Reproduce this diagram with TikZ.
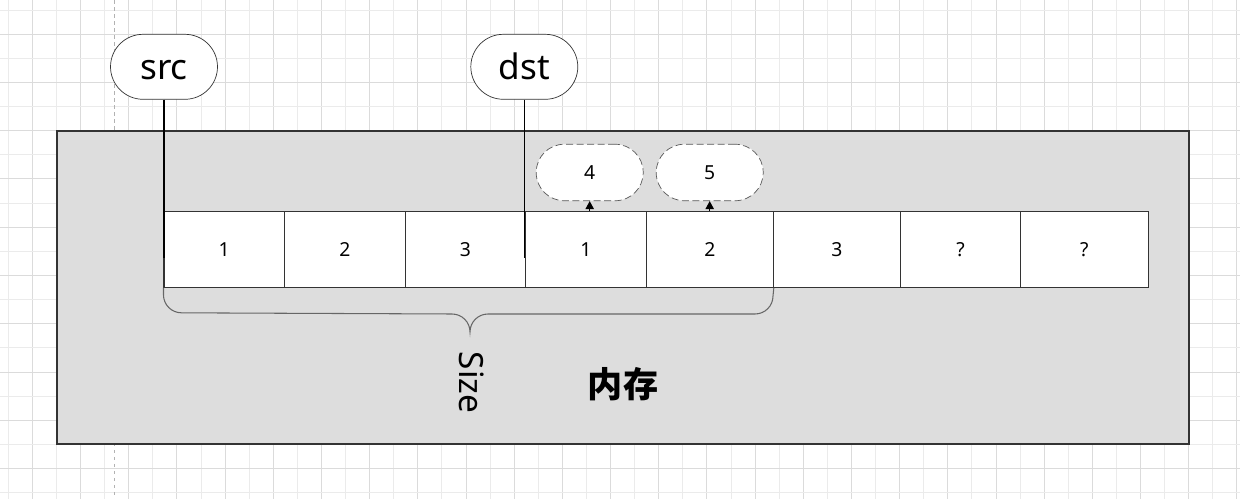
\documentclass[tikz,border=0pt]{standalone}
\usepackage{fontspec}
\setmainfont{Noto Sans}
\newfontfamily\cjk{Noto Sans CJK SC}
\usetikzlibrary{arrows.meta,positioning}
\definecolor{memgray}{HTML}{DDDDDD}
\definecolor{edgegray}{HTML}{333333}
\tikzset{
    >={Triangle[length=4.6pt,width=4.8pt]},
    gridminor/.style={draw=black!8, line width=0.5pt},
    gridmajor/.style={draw=black!14, line width=0.5pt},
    guide/.style={draw=black!30, dash pattern=on 2pt off 2pt, line width=0.5pt},
    pill/.style={draw=edgegray, fill=white, rounded corners=0.65cm,
        minimum width=2.14cm, minimum height=1.3cm, inner sep=0pt,
        text height=15pt, text depth=0.9pt,
        font=\fontsize{20}{24}\selectfont},
    newpill/.style={draw=black!65, fill=white, dash pattern=on 4pt off 2pt,
        rounded corners=0.56cm, minimum width=2.14cm, minimum height=1.13cm,
        inner sep=0pt, font=\fontsize{11}{13}\selectfont},
    cell/.style={draw=edgegray, fill=white, minimum height=1.512cm,
        inner sep=0pt, line width=0.6pt, font=\fontsize{11}{13}\selectfont},
    ptr/.style={draw=black, line width=0.8pt},
    brace/.style={draw=black!60, line width=0.6pt},
}

\begin{document}
\begin{tikzpicture}[x=0.02cm, y=0.02cm]
    \useasboundingbox (0,0) rectangle (1240,-499);

    % background grid
    \foreach \k in {0,2,...,50} \draw[gridminor] ({8.3+24.09*\k},0) -- ++(0,-499);
    \foreach \k in {1,3,...,51} \draw[gridmajor] ({8.3+24.09*\k},0) -- ++(0,-499);
    \foreach \k in {0,2,...,20} \draw[gridminor] (0,{-10-24.13*\k}) -- ++(1240,0);
    \foreach \k in {1,3,...,19} \draw[gridmajor] (0,{-10-24.13*\k}) -- ++(1240,0);
    \draw[guide] (114.7,0) -- (114.7,-499);

    % memory block
    \draw[draw=edgegray, fill=memgray, line width=0.6pt] (57,-131) rectangle (1189,-444);

    \foreach \l/\r/\t [count=\i] in {164/284.3/1, 284.3/405.3/2, 405.3/525.3/3,
            525.3/646.7/1, 646.7/773.3/2, 773.3/900.7/3, 900.7/1020.3/?, 1020.3/1148.3/?} {
        \pgfmathsetmacro\w{(\r-\l)*0.02}
        \node[cell, minimum width=\w cm] (c\i) at ({(\l+\r)/2},-249.5) {\t};
    }

    % pointers
    \node[pill] (src) at (164,-66.8) {src};
    \node[pill] (dst) at (524.3,-66.8) {dst};
    \coordinate (srcend) at (164,-258);
    \coordinate (dstend) at (524.3,-258);
    \draw[ptr] (src.south) -- (srcend);
    \draw[ptr] (dst.south) -- (dstend);

    % new values
    \node[newpill] (n4) at (589.7,-172.5) {4};
    \node[newpill] (n5) at (709.7,-172.5) {5};
    \draw[->, line width=0.6pt] (n4.south |- c4.north) -- (n4.south);
    \draw[->, line width=0.6pt] (n5.south |- c5.north) -- (n5.south);

    % brace
    \draw[brace] (c1.south west) -- ++(0,-7) arc[start angle=180, end angle=270, radius=18]
        -- (452,-314) arc[start angle=90, end angle=0, radius=18]
        coordinate (tip)
        arc[start angle=180, end angle=90, radius=18]
        -- (755,-314) arc[start angle=270, end angle=360, radius=18]
        -- (c5.south east);

    \node[rotate=-90, font=\fontsize{19}{22}\selectfont] (size) at (472,-382.5) {Size};
    \node[font=\cjk\bfseries\fontsize{20}{24}\selectfont] (mem) at (623,-384.5) {内存};
\end{tikzpicture}
\end{document}
